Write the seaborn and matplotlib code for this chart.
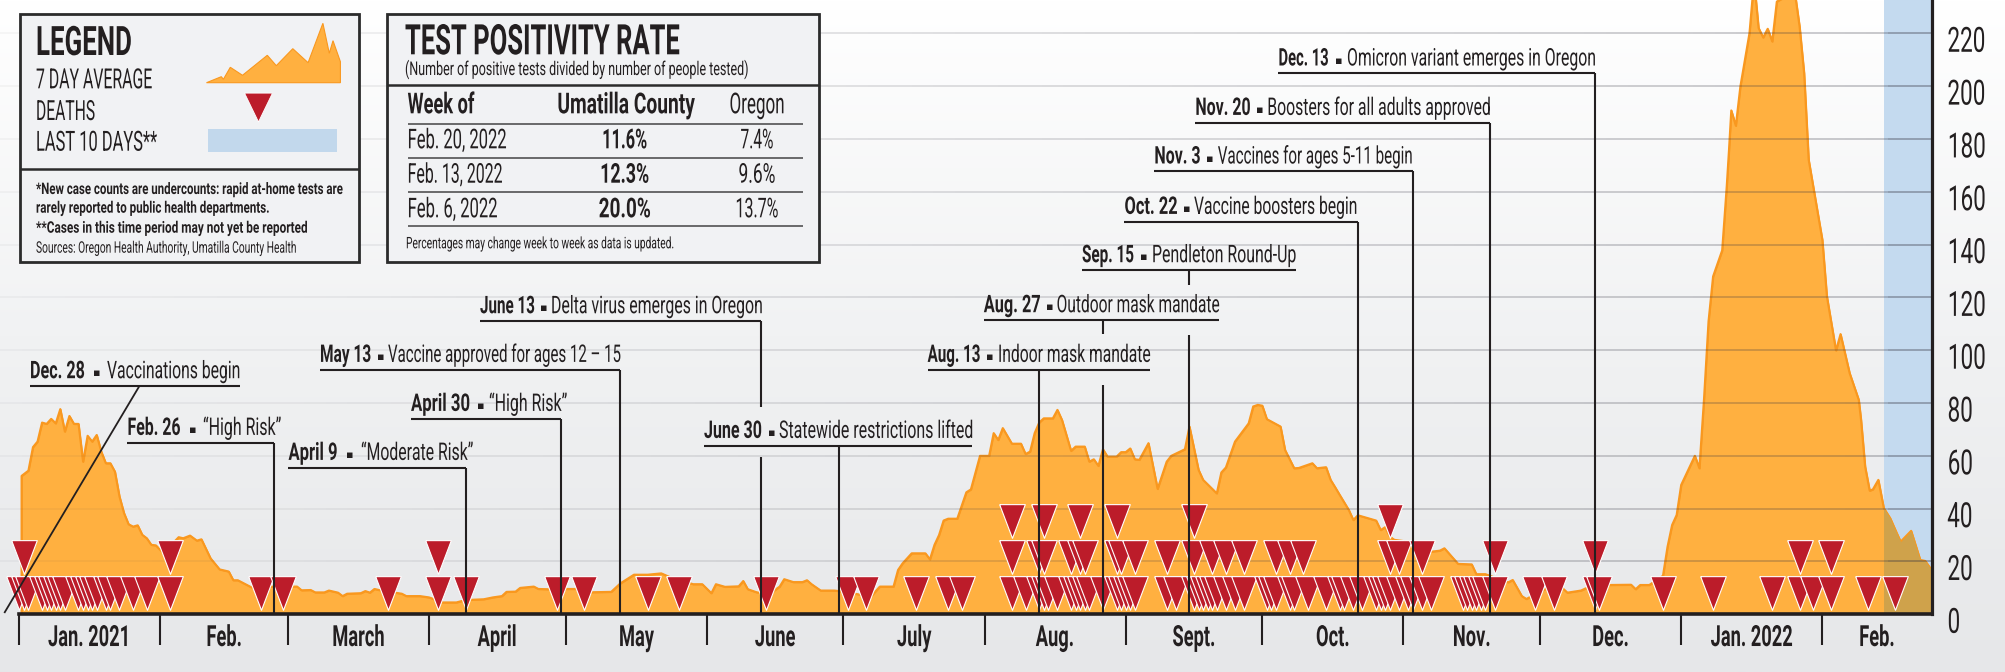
import numpy as np
import pandas as pd
import matplotlib
matplotlib.use('Agg')
import matplotlib.pyplot as plt
import matplotlib.patheffects as pe
from matplotlib.collections import LineCollection
from matplotlib.transforms import Affine2D, ScaledTranslation
import seaborn as sns

# days counted from Jan. 1, 2021
area_days = [0.5, 0.5, 2, 3, 4, 5, 6, 7, 8, 9, 10, 11, 12, 13, 14, 15, 16, 17, 18, 19, 20, 21, 22, 23, 24, 25, 26, 27, 28, 29, 30,
             32, 33, 35, 36, 37.5, 39, 40, 42, 44, 46, 47, 48, 51, 56, 61, 62, 64, 65, 67, 68, 70, 71, 72, 75, 76, 77, 78, 79, 81, 84, 85,
             88, 90, 93, 96, 98, 102, 104, 106, 107, 109, 110, 113, 114, 116, 120, 123, 124, 130, 132, 135, 138, 141,
             143, 148, 150, 152, 153, 155, 158, 159, 160, 162, 165, 167, 168, 170, 172, 173, 174, 176, 179, 181, 187, 189, 192,
             193, 194, 196, 199, 200, 201, 202, 203, 204, 206, 208, 209, 211, 213, 214, 215, 216, 218, 220, 221, 222, 223, 224, 225, 227, 228, 229,
             231, 232, 234, 235, 236, 237, 238, 239, 241, 242, 243, 244, 245, 246, 248, 250, 252, 253, 256, 257, 259, 260, 263, 264, 265, 267,
             270, 271, 272, 273, 274, 277, 278, 280, 281, 284, 285, 287, 288,
             289, 290, 292, 293, 294, 298, 299, 300, 301, 302, 305, 310, 312, 313, 316, 319, 320, 322, 327, 328, 330, 331, 334, 337, 339, 340,
             343, 344, 349, 354, 355, 356, 358, 361, 362, 363, 364, 365, 368, 369,
             370, 371, 372, 374, 375, 375.5, 376, 377, 378, 380, 381, 382, 383, 384, 385, 386, 387, 388, 389, 390, 391, 392, 393, 396, 397, 399, 400, 402,
             404, 404.5, 405.4, 406.4, 407.1, 408.3, 409.5, 410.9, 412.2, 413.2, 415.5, 417.5, 418.6, 420]
area_vals = [0, 52.4, 54.4, 63.3, 65.4, 72.6, 72.1, 74, 72.3, 77.7, 69.2, 75.1, 72.1, 72.1, 57.8, 67.6, 65.4, 67.9, 61.6, 57.2, 57.2, 54, 44.6, 38.3, 34.1, 33.2, 33.7, 30.1, 28.8, 26.3, 26.1,
             22.5, 25.6, 29.2, 28.8, 29.8, 27.9, 28.4, 21.2, 17, 16.2, 12.9, 12.9, 10.2, 10.5, 10.5, 9.1, 9.2, 8.3, 8.3, 9, 8.2, 6.9, 7.8, 8, 8.8, 8.2, 9.6, 9.2, 8.6, 7.8, 6.9,
             6.9, 6.4, 4.5, 4.5, 5.4, 5.7, 6.4, 6.9, 8.5, 8.6, 10, 10.5, 9.6, 9.5, 9.6, 9.6, 8.3, 8.5, 11.7, 15, 15, 15.5,
             14, 11.4, 11.4, 8, 11.4, 10.4, 10.6, 12.6, 9.5, 8.3, 8, 10.5, 13.3, 12.2, 12.2, 12.9, 11.4, 9, 9, 8.6, 6.7, 10.5, 10.5,
             16.8, 19.3, 23.1, 23.1, 20.8, 26.3, 30, 35.5, 36.2, 36.2, 46.2, 47.3, 60, 60, 68.6, 66, 70.5, 64.6, 64.6, 60.7, 61.6, 68.6, 72.6, 74.2, 74.2, 77.4, 73.6,
             61.9, 63.5, 63.5, 57.8, 58.7, 56.2, 62.5, 59.7, 59.7, 61.4, 61.4, 62.8, 58.7, 58.5, 64.8, 47.5, 57.8, 60, 62.5, 71.1, 54.7, 50.9, 45.8, 53.7, 55.6, 65.4,
             72.3, 78.7, 79.3, 79, 73.9, 71.1, 62.2, 55.3, 55.4, 57.2, 55.3, 55.7, 50.9,
             48.1, 45.2, 39.5, 35.7, 37.5, 35.5, 31.9, 33, 29.4, 28.2, 27.5, 23.7, 24.1, 25, 19.1, 18.9, 15.2, 15.2, 12.1, 13, 6.9, 5.8, 8.6, 11.1, 9.8, 8.2,
             9, 9.8, 11.1, 11.2, 9.5, 11.1, 11.1, 14.6, 25.6, 33.8, 37.6, 49, 60, 55.3,
             81.2, 110.9, 127.9, 137.8, 162, 175.9, 190.8, 185, 199.9, 220.1, 240, 222, 218.4, 221.7, 216.9, 232, 233, 233.5, 234, 235, 222.6, 204.9, 172.1, 141.8, 120.4, 99.9, 106.1, 91.3,
             81.2, 73.6, 55.9, 46.8, 47.3, 50.9, 40.2, 36.4, 31.3, 27.5, 31.6, 20.6, 20.2, 16.8]

# each list holds the days with at least 1, 2 or 3 deaths
deaths_first = [0, 1, 2, 5, 6, 7, 8, 9, 10, 13, 14, 15, 16, 17, 19, 20, 22, 25, 28, 33, 53, 58, 81, 92, 98, 118, 124, 138, 145, 164, 182, 186, 197, 204, 207,
                218, 221, 224, 225, 226, 228, 231, 232, 233, 234, 235, 238, 241, 242, 243, 244, 245, 252, 254, 258, 259, 260, 261, 262, 263, 265, 267, 269,
                274, 275, 276, 279, 280, 283, 287, 290, 291, 293, 295, 298, 299, 300, 301, 303, 305, 306, 308, 310, 317, 318, 319, 320, 321, 322, 324,
                333, 337, 346, 347, 361, 372, 385, 391, 394, 398, 406, 412]
deaths_second = [1, 33, 92, 218, 224, 225, 231, 233, 234, 241, 242, 245, 252, 258, 262, 265, 269, 276, 279, 282, 301, 303, 308, 324, 346, 391, 398]
deaths_third = [218, 225, 233, 241, 258, 301]

month_starts = [0, 31, 59, 90, 120, 151, 181, 212, 243, 273, 304, 334, 365, 396]
month_names = ['Jan. 2021', 'Feb.', 'March', 'April', 'May', 'June', 'July', 'Aug.', 'Sept.', 'Oct.', 'Nov.', 'Dec.', 'Jan. 2022', 'Feb.']
y_ticks = list(range(0, 221, 20))

event_dates = ['Dec. 28', 'Feb. 26', 'April 9', 'April 30', 'May 13', 'June 13', 'June 30', 'Aug. 13', 'Aug. 27', 'Sep. 15', 'Oct. 22', 'Nov. 3', 'Nov. 20', 'Dec. 13']
event_notes = ['Vaccinations begin', '\u201cHigh Risk\u201d', '\u201cModerate Risk\u201d', '\u201cHigh Risk\u201d', 'Vaccine approved for ages 12 \u2013 15',
               'Delta virus emerges in Oregon', 'Statewide restrictions lifted', 'Indoor mask mandate', 'Outdoor mask mandate', 'Pendleton Round-Up',
               'Vaccine boosters begin', 'Vaccines for ages 5-11 begin', 'Boosters for all adults approved', 'Omicron variant emerges in Oregon']
event_days = [-4, 56, 98, 119, 132, 163, 180, 224, 238, 257, 294, 306, 323, 346]

# where the event labels sit, in pixels of the 2005x672 figure
date_left = [30, 127.5, 288.5, 411, 320, 480, 704, 927.6, 983.8, 1082, 1124.5, 1154.4, 1195.4, 1278.5]
date_width = [54.7, 53, 49, 59, 51, 54.7, 57.7, 52.7, 56.7, 52, 53, 46, 55, 50]
note_left = [107, 203, 361, 489, 388, 551, 779, 998, 1056.6, 1152, 1194, 1217.8, 1267.3, 1347]
note_right = [240, 281, 473, 567, 620.5, 762, 972.5, 1150, 1219, 1296, 1357, 1412.4, 1490, 1595]
rule_y = [386, 442.7, 467.7, 418.7, 369.7, 321, 445.7, 369.7, 320, 270, 221.7, 171.3, 122.7, 73.3]
rule_right = [240, None, None, None, None, None, 972.5, 1150, 1219, 1296, None, None, None, None]
rule_breaks = {'June 13': [(321, 406.7), (457, 614)], 'Aug. 27': [(320, 334), (385, 614)], 'Sep. 15': [(270, 285), (335, 614)]}

legend_x = [206.5, 221.3, 223.4, 230.3, 242.5, 267.3, 276.3, 292.8, 308.1, 322.9, 329.3, 333, 340.4, 340.4]
legend_y = [82.7, 76.7, 79.3, 67.3, 75.3, 55.3, 65.7, 48.7, 62.7, 23.3, 53.3, 40.7, 61.7, 82.7]

table_weeks = ['Feb. 20, 2022', 'Feb. 13, 2022', 'Feb. 6, 2022']
table_county = ['11.6%', '12.3%', '20.0%']
table_oregon = ['7.4%', '9.6%', '13.7%']

INK = '#231f20'
FILL = '#ffb040'
EDGE = '#f9981f'
RED = '#bc1c2a'
BOX = '#f1f2f4'
W, H = 2005, 672
X0, X1, Y0 = 19.3, 1931.6, 614.3
PX_PER_DAY = (X1 - X0) / 420
PX_PER_CASE = 2.641
TRI_DOWN = [(-0.76, 1), (0.76, 1), (0, -1), (-0.76, 1)]


class Reshape(pe.AbstractPathEffect):
    # the reference font is very condensed, none is installed, so reshape the glyphs when drawing
    def __init__(self, sx=1, sy=1, anchor=0):
        super().__init__()
        self.sx = sx
        self.sy = sy
        self.anchor = anchor

    def draw_path(self, renderer, gc, tpath, affine, rgbFace=None):
        box = tpath.get_extents()
        cx = box.x0 + self.anchor * box.width
        shape = Affine2D().translate(-cx, 0).scale(self.sx, self.sy).translate(cx, 0)
        renderer.draw_path(gc, tpath, shape + affine, rgbFace)


sns.set_theme(style='white')
plt.rcParams['font.family'] = ['Roboto', 'DejaVu Sans']

fig = plt.figure(figsize=(W / 100, H / 100), dpi=100)
rend = fig.canvas.get_renderer()

bg = fig.add_axes([0, 0, 1, 1], zorder=-1)
bg.imshow(np.linspace(0, 1, 256).reshape(-1, 1), aspect='auto', cmap=sns.blend_palette(['#ffffff', '#f1f2f3', '#e6e7e9'], as_cmap=True))
bg.axis('off')

ax = fig.add_axes([X0 / W, 1 - Y0 / H, (X1 - X0) / W, Y0 / H], zorder=1)
ax.patch.set_alpha(0)
ax.set_xlim(0, 420)
ax.set_ylim(0, Y0 / PX_PER_CASE)

band = ax.axvspan(409.5, 420, color='#c4daef', lw=0, zorder=0.5)
ax.fill_between(area_days, area_vals, color=FILL, edgecolor=EDGE, lw=1.1, zorder=1)
sns.lineplot(x=area_days, y=area_vals, estimator=None, sort=False, color=EDGE, lw=1.5, ax=ax, zorder=1.1)
dark = ax.fill_between(area_days, area_vals, color='#cfa24b', lw=0, zorder=1.2)
dark.set_clip_path(band)

# gridlines get darker toward the right, like the print graphic
edges = np.linspace(-X0 / PX_PER_DAY, 420, 90)
mid = (edges[:-1] + edges[1:]) / 2
alpha = np.interp(mid, [-4, 60, 220, 409, 410], [0.05, 0.08, 0.2, 0.33, 0.45])
for v in y_ticks[1:]:
    segs = [[(a, v), (b, v)] for a, b in zip(edges[:-1], edges[1:])]
    ax.add_collection(LineCollection(segs, colors=[(0.2, 0.2, 0.25, a) for a in alpha], lw=1.1, zorder=1.5, clip_on=False), autolim=False)

d = pd.DataFrame({'day': deaths_first + deaths_second + deaths_third,
                  'row': [0] * len(deaths_first) + [1] * len(deaths_second) + [2] * len(deaths_third)})
d = d.sort_values(['row', 'day'])
d['level'] = 8.1 + 13.6 * d['row']
sns.scatterplot(data=d, x='day', y='level', marker=TRI_DOWN, s=590, color=RED,
                edgecolor='white', linewidth=0.8, ax=ax, zorder=2, clip_on=False, legend=False)

for s in ['top', 'left']:
    ax.spines[s].set_visible(False)
ax.spines['bottom'].set_linewidth(2.6)
ax.spines['right'].set_linewidth(2.3)
ax.spines['bottom'].set_color(INK)
ax.spines['right'].set_color(INK)
ax.spines['bottom'].set_zorder(3)
ax.set_xlabel('')
ax.set_ylabel('')

ax.set_xticks(month_starts)
ax.set_xticklabels([])
ax.tick_params(axis='x', which='major', bottom=True, length=22, width=1.5, color=INK)
ends = month_starts[1:] + [420]
ax.set_xticks([(a + b) / 2 for a, b in zip(month_starts, ends)], minor=True)
ax.set_xticklabels(month_names, minor=True, fontsize=21, fontweight='bold', color=INK)
ax.tick_params(axis='x', which='minor', bottom=True, length=0, pad=7)
probe = ax.xaxis.get_ticklabels(minor=True)
sx = 82 / probe[0].get_window_extent(rend).width
for t in probe:
    t.set_path_effects([Reshape(sx=sx, anchor=0.5)])

ax.set_yticks(y_ticks)
ax.yaxis.tick_right()
ax.tick_params(axis='y', length=0, pad=11)
ax.set_yticklabels(y_ticks, fontsize=25, color=INK, ha='left')
probe = ax.yaxis.get_ticklabels()
sx = 38 / probe[-1].get_window_extent(rend).width
down = ScaledTranslation(0, -5.5 / 100, fig.dpi_scale_trans)
for t in probe:
    t.set_path_effects([Reshape(sx=sx)])
    t.set_transform(t.get_transform() + down)

over = fig.add_axes([0, 0, 1, 1], zorder=5)
over.set_xlim(0, W)
over.set_ylim(H, 0)
over.axis('off')


def put(s, x, baseline, cap, width, bold=False):
    # font size set so the text is as wide as in the reference, then grown upward to the cap height
    size = cap * 1.08 / 0.711 * 0.72
    t = over.text(x, baseline, s, fontsize=size, fontweight='bold' if bold else 'normal',
                  color=INK, va='baseline', ha='left')
    ratio = width / t.get_window_extent(rend).width
    t.set_fontsize(size * ratio)
    t.set_path_effects([Reshape(sy=1 / ratio)])


def rule(xs, ys, lw=1.5, color=INK):
    over.plot(xs, ys, color=color, lw=lw, solid_capstyle='butt')


def day_px(day):
    return X0 + PX_PER_DAY * day


for i, date in enumerate(event_dates):
    base = rule_y[i] - 7.8
    put(date, date_left[i], base, 16, date_width[i], bold=True)
    put(event_notes[i], note_left[i], base, 16, note_right[i] - note_left[i])
    over.text((date_left[i] + date_width[i] + note_left[i]) / 2 + 1, base - 5, '\u25aa', family='DejaVu Sans', fontsize=8,
              color=INK, ha='center', va='center')
    end = rule_right[i] if rule_right[i] else day_px(event_days[i])
    rule([date_left[i], end], [rule_y[i], rule_y[i]])
    if i == 0:
        rule([139.4, 4.3], [386, 613], lw=1.3)
        continue
    for top, bottom in rule_breaks.get(date, [(rule_y[i], 614)]):
        rule([day_px(event_days[i])] * 2, [top, bottom])

# legend box
over.fill([19.6, 359, 359, 19.6], [14, 14, 262.3, 262.3], facecolor=BOX, edgecolor='#2b2b2b', lw=2)
rule([19.6, 359], [169.3, 169.3], lw=1.8, color='#2b2b2b')
put('LEGEND', 36, 55, 26.7, 96, bold=True)
put('7 DAY AVERAGE', 36, 88.3, 18.3, 116)
put('DEATHS', 36, 120, 18.3, 59)
put('LAST 10 DAYS**', 36, 150.7, 18.3, 121)
over.fill(legend_x, legend_y, facecolor=FILL, edgecolor=EDGE, lw=0.8)
over.scatter([258], [107], marker=[(-0.97, 1), (0.97, 1), (0, -1), (-0.97, 1)], s=430, color=RED, edgecolor='white', linewidth=0.6)
over.fill([208, 337, 337, 208], [129, 129, 152, 152], color='#c2d8ec', lw=0)
put('*New case counts are undercounts: rapid at-home tests are', 36, 194, 10.5, 306, bold=True)
put('rarely reported to public health departments.', 36, 212.7, 10.5, 233, bold=True)
put('**Cases in this time period may not yet be reported', 36, 232.7, 10.5, 271, bold=True)
put('Sources: Oregon Health Authority, Umatilla County Health', 36, 252.7, 10.5, 260)

# positivity table
over.fill([387.5, 819, 819, 387.5], [14, 14, 262.3, 262.3], facecolor=BOX, edgecolor='#2b2b2b', lw=2)
rule([387.5, 819], [85, 85], lw=1.8, color='#2b2b2b')
put('TEST POSITIVITY RATE', 405, 54.3, 27.7, 274, bold=True)
put('(Number of positive tests divided by number of people tested)', 405, 75, 12.5, 344)
put('Week of', 407.6, 113.3, 19, 67, bold=True)
put('Umatilla County', 557.4, 113.3, 19, 137.6, bold=True)
put('Oregon', 729.5, 113.3, 19, 55)
for y in [124.3, 158, 191.7, 225.7]:
    rule([407.6, 803], [y, y], lw=1.1, color='#444444')
for i, y in enumerate([148.3, 182.7, 217.3]):
    w = [99, 95, 90][i]
    put(table_weeks[i], 407.6, y, 18, w)
    w = [45, 49, 52][i]
    put(table_county[i], 624.7 - w / 2, y, 18, w, bold=True)
    w = [33, 37, 43][i]
    put(table_oregon[i], 757 - w / 2, y, 18, w)
put('Percentages may change week to week as data is updated.', 406, 248.3, 10.5, 268)

fig.savefig('out.png', dpi=100)
